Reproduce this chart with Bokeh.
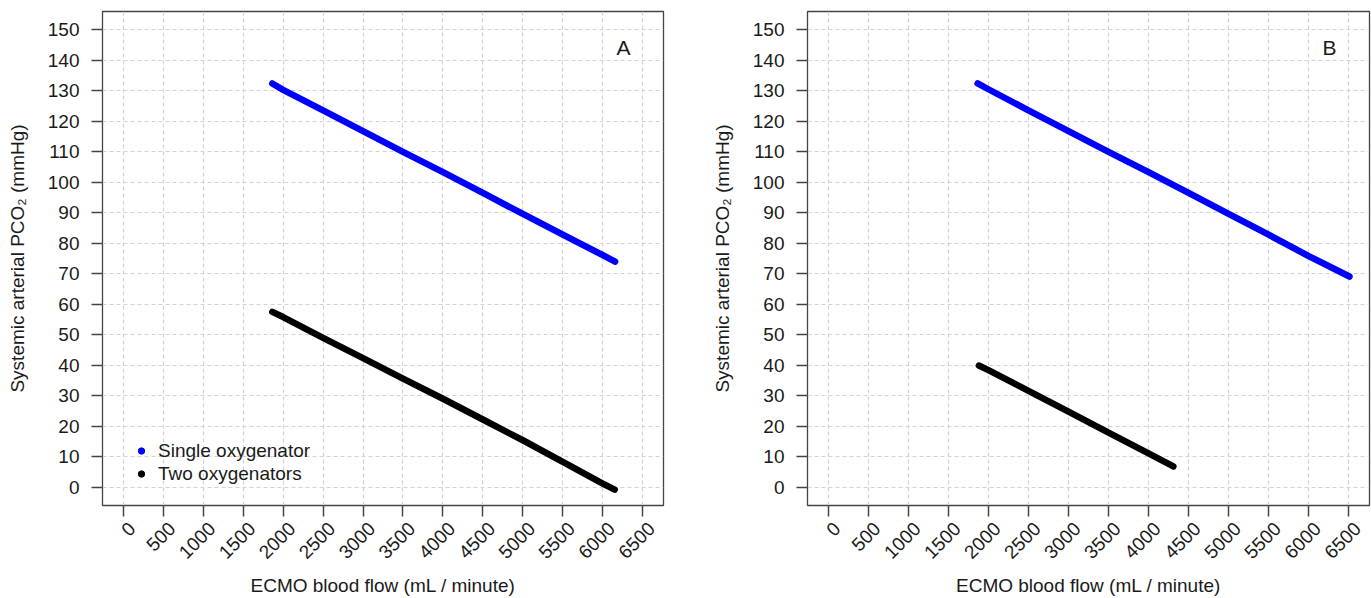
import math
from bokeh.plotting import figure
from bokeh.models import FixedTicker, Label, Legend, LegendItem, Range1d
from bokeh.layouts import row
from bokeh.embed import file_html
from bokeh.resources import INLINE

# ---- data ----
flow_A_single = [1865, 2000, 2500, 3000, 3500, 4000, 4500, 5000, 5500, 6000, 6155]
pco2_A_single = [132.4, 130.3, 123.6, 116.8, 110.0, 103.3, 96.5, 89.6, 82.8, 76.1, 74.0]
flow_A_two = [1865, 2000, 2500, 3000, 3500, 4000, 4500, 5000, 5500, 6000, 6150]
pco2_A_two = [57.5, 55.8, 49.0, 42.3, 35.6, 29.0, 22.2, 15.4, 8.3, 1.2, -0.8]

flow_B_single = [1865, 2000, 2500, 3000, 3500, 4000, 4500, 5000, 5500, 6000, 6510]
pco2_B_single = [132.4, 130.5, 123.6, 116.8, 110.0, 103.3, 96.5, 89.6, 82.8, 75.8, 69.1]
flow_B_two = [1880, 2000, 2500, 3000, 3500, 4000, 4310]
pco2_B_two = [39.9, 38.4, 31.6, 24.8, 17.9, 11.1, 6.8]

x_ticks = [0, 500, 1000, 1500, 2000, 2500, 3000, 3500, 4000, 4500, 5000, 5500, 6000, 6500]
x_tick_labels = ["0", "500", "1000", "1500", "2000", "2500", "3000", "3500", "4000",
                 "4500", "5000", "5500", "6000", "6500"]
y_ticks = [0, 10, 20, 30, 40, 50, 60, 70, 80, 90, 100, 110, 120, 130, 140, 150]
series_names = ["Single oxygenator", "Two oxygenators"]
series_colors = ["#0000FF", "#000000"]
panel_letters = ["A", "B"]

FONT = "Liberation Sans"
FS = "19px"
TXT = "#1a1a1a"
AX = "#444444"


def make_panel(flows_single, pco2_single, flows_two, pco2_two, letter,
               frame_w, border_right, legend=False):
    p = figure(frame_width=frame_w, frame_height=494,
               x_range=Range1d(-260, 6760), y_range=Range1d(-6, 156),
               output_backend="svg", toolbar_location=None,
               min_border_left=102, min_border_right=border_right,
               min_border_top=11, min_border_bottom=92)
    p.background_fill_color = "white"
    p.border_fill_color = "white"
    p.outline_line_color = AX
    p.outline_line_width = 1.3

    # grid
    for g, t in ((p.xgrid, x_ticks), (p.ygrid, y_ticks)):
        g.ticker = FixedTicker(ticks=t)
        g.grid_line_color = "#d2d2d2"
        g.grid_line_dash = "4 3"
        g.grid_line_width = 1.2

    p.xaxis.ticker = FixedTicker(ticks=x_ticks)
    p.yaxis.ticker = FixedTicker(ticks=y_ticks)
    for ax in (p.xaxis, p.yaxis):
        ax.axis_line_color = None
        ax.major_tick_line_color = AX
        ax.major_tick_line_width = 1.5
        ax.major_tick_out = 11
        ax.major_tick_in = 0
        ax.minor_tick_line_color = None
        ax.major_label_text_font = FONT
        ax.major_label_text_font_size = FS
        ax.major_label_text_color = TXT
        ax.axis_label_text_font = FONT
        ax.axis_label_text_font_size = FS
        ax.axis_label_text_font_style = "normal"
        ax.axis_label_text_color = TXT

    p.xaxis.major_label_orientation = math.pi / 4
    # leading empty line moves each rotated label half a line down-right,
    # so it sits centred under its tick as in the reference
    p.xaxis.major_label_overrides = {t: "\n" + s for t, s in zip(x_ticks, x_tick_labels)}
    p.xaxis.major_label_standoff = 0
    p.xaxis.axis_label = "ECMO blood flow (mL / minute)"
    p.xaxis.axis_label_standoff = -7
    p.yaxis.major_label_standoff = 12
    p.yaxis.axis_label = "Systemic arterial PCO\u2082 (mmHg)"
    p.yaxis.axis_label_standoff = 17

    p.line(flows_single, pco2_single, line_color=series_colors[0], line_width=6.5,
           line_cap="round", line_join="round")
    p.line(flows_two, pco2_two, line_color=series_colors[1], line_width=6.5,
           line_cap="round", line_join="round")

    p.add_layout(Label(x=6260, y=144.2, text=letter, text_align="center",
                       text_baseline="middle", text_font=FONT,
                       text_font_size="21px", text_color=TXT))

    if legend:
        # hidden scatter renderers only used for the legend's dot glyphs
        d1 = p.scatter(flows_single, pco2_single, size=9, color=series_colors[0],
                       visible=False)
        d2 = p.scatter(flows_two, pco2_two, size=9, color=series_colors[1],
                       visible=False)
        lg = Legend(items=[LegendItem(label=series_names[0], renderers=[d1]),
                           LegendItem(label=series_names[1], renderers=[d2])],
                    location=(31, 20), padding=0, margin=0, spacing=0,
                    glyph_width=16, glyph_height=23, label_height=23,
                    label_standoff=9, border_line_color=None,
                    background_fill_alpha=0, inactive_fill_alpha=0,
                    click_policy="none",
                    label_text_font=FONT, label_text_font_size=FS,
                    label_text_color=TXT)
        p.add_layout(lg)
    return p


pA = make_panel(flow_A_single, pco2_A_single, flow_A_two, pco2_A_two,
                panel_letters[0], 561, 42, legend=True)
pB = make_panel(flow_B_single, pco2_B_single, flow_B_two, pco2_B_two,
                panel_letters[1], 562, 2)

layout = row(pA, pB, spacing=0)
open("out.html", "w").write(file_html(layout, INLINE))
